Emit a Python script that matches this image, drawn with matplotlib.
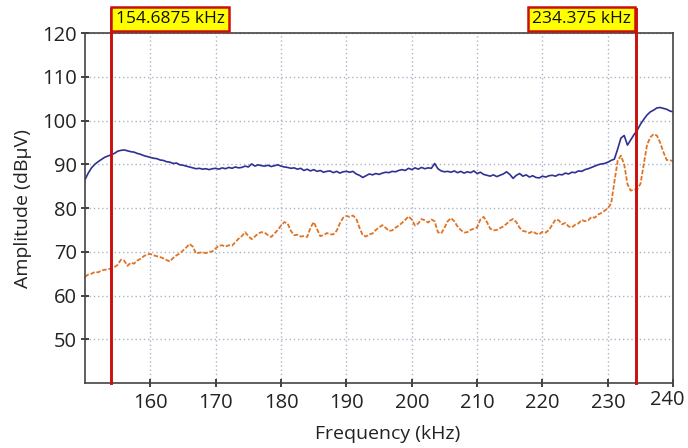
import matplotlib
matplotlib.use("Agg")
import matplotlib.pyplot as plt
import matplotlib.transforms as mtransforms
import numpy as np

plt.rcParams['font.family'] = ['Open Sans', 'DejaVu Sans']

# measured traces, 0.5 kHz steps from 150 to 240 kHz
freq = np.arange(150.0, 240.01, 0.5)

upper = [86.5, 88.0, 89.2, 90.0, 90.6, 91.1, 91.6, 91.9, 92.2, 92.5,
         93.0, 93.2, 93.3, 93.1, 92.9, 92.8, 92.5, 92.3, 92.0, 91.8,
         91.6, 91.4, 91.3, 91.0, 90.9, 90.6, 90.5, 90.2, 90.3, 89.9,
         89.8, 89.6, 89.4, 89.2, 89.0, 89.1, 88.9, 89.0, 88.8, 89.0,
         89.1, 88.9, 89.2, 89.0, 89.3, 89.1, 89.4, 89.2, 89.3, 89.6,
         89.4, 90.1, 89.6, 89.9, 89.7, 89.6, 89.8, 89.5, 89.7, 89.9,
         89.6, 89.4, 89.3, 89.1, 89.2, 88.9, 89.1, 88.6, 88.9, 88.5,
         88.8, 88.4, 88.6, 88.2, 88.4, 88.5, 88.1, 88.4, 88.0, 88.3,
         88.4, 88.2, 88.4, 87.8, 87.5, 87.0, 87.4, 87.8, 87.6, 87.9,
         87.7, 88.0, 88.2, 88.1, 88.4, 88.3, 88.6, 88.8, 88.6, 89.1,
         88.8, 89.2, 88.9, 89.3, 89.0, 89.2, 89.1, 90.2, 89.0, 88.5,
         88.3, 88.4, 88.2, 88.5, 88.1, 88.4, 88.0, 88.3, 88.1, 88.5,
         87.9, 88.2, 87.7, 87.5, 87.3, 87.6, 87.2, 87.5, 87.8, 88.3,
         87.7, 86.8, 87.5, 87.9, 87.3, 87.6, 87.1, 87.4, 87.0, 86.9,
         87.3, 87.1, 87.4, 87.5, 87.3, 87.7, 87.6, 88.0, 87.8, 88.2,
         88.1, 88.5, 88.4, 88.8, 89.0, 89.3, 89.6, 89.9, 90.1, 90.2,
         90.5, 90.9, 91.2, 93.5, 96.0, 96.6, 94.4, 95.6, 96.8, 97.8,
         99.2, 100.3, 101.3, 102.0, 102.4, 102.9, 103.0, 102.8, 102.6, 102.2,
         102.0]

lower = [64.3, 64.8, 65.0, 65.4, 65.3, 65.7, 65.9, 66.0, 66.2, 66.5,
         67.0, 68.2, 68.0, 66.8, 67.5, 67.3, 68.0, 68.4, 69.0, 69.4,
         69.5, 69.2, 69.0, 68.8, 68.5, 68.1, 67.8, 68.6, 69.2, 69.6,
         70.3, 71.0, 71.8, 71.2, 69.6, 69.8, 69.9, 69.7, 70.0, 70.1,
         70.8, 71.4, 71.5, 71.2, 71.5, 71.4, 72.2, 73.0, 73.6, 74.5,
         73.6, 72.9, 73.5, 74.2, 74.5, 74.4, 73.8, 73.4, 74.2, 75.0,
         76.0, 76.8, 76.5, 74.8, 73.8, 73.9, 73.5, 73.6, 73.4, 75.5,
         76.8, 75.2, 73.6, 73.8, 74.3, 74.0, 74.0, 74.8, 76.5, 77.8,
         78.2, 78.0, 78.3, 77.6, 75.5, 73.8, 73.5, 74.0, 74.2, 75.0,
         75.6, 76.1, 75.5, 74.8, 74.9, 75.5, 76.0, 76.6, 77.3, 78.1,
         77.4, 76.0, 76.5, 77.5, 77.2, 76.7, 77.4, 77.0, 74.5, 74.2,
         75.5, 77.0, 77.7, 77.0, 75.8, 75.0, 74.4, 74.5, 75.0, 75.3,
         75.6, 77.4, 78.0, 76.8, 75.3, 74.9, 75.0, 75.4, 75.8, 76.4,
         77.1, 77.5, 76.8, 75.5, 74.8, 74.6, 74.3, 74.7, 74.2, 74.0,
         74.6, 74.4, 75.0, 76.2, 77.4, 77.2, 76.3, 76.6, 75.8, 75.6,
         76.2, 76.5, 77.3, 77.0, 77.2, 78.0, 77.8, 78.5, 78.9, 79.4,
         80.0, 81.0, 86.0, 90.8, 92.0, 90.0, 85.5, 84.0, 84.2, 84.3,
         85.6, 90.0, 94.5, 96.2, 96.9, 96.6, 95.0, 92.8, 91.0, 90.9,
         90.8]

# marker lines as drawn in the picture, with their readouts
markers = [153.95, 234.3]
marker_labels = ["154.6875 kHz", "234.375 kHz"]

fig = plt.figure(figsize=(6.88, 4.48), dpi=100)
ax = fig.add_axes([0.1235, 0.145, 0.855, 0.781])

ax.grid(which='major', color='#aab4c8', linestyle=(0, (1, 2)), linewidth=1.0)
ax.plot(freq, upper, color='#2e3192', linewidth=1.2)
ax.plot(freq, lower, color='#e07426', linewidth=1.3, linestyle=(0, (2.5, 1)))

ax.set_xlim(150, 240)
ax.set_ylim(40, 120)
ax.set_xticks(np.arange(160, 241, 10))
ax.set_yticks(np.arange(50, 121, 10))
ax.tick_params(direction='inout', length=6, width=1.2, labelsize=14.5, colors='#222222')
ax.tick_params(axis='x', pad=4)
ax.tick_params(axis='y', pad=3)
for s in ax.spines.values():
    s.set_color('#444444')
    s.set_linewidth(1.2)

# last x label nudged left/up so it stays inside the figure
last = ax.get_xticklabels()[-1]
last.set_transform(last.get_transform() +
                   mtransforms.ScaledTranslation(-6 / 100, 3 / 100, fig.dpi_scale_trans))

ax.set_xlabel("Frequency (kHz)", fontsize=14, color='#222222')
ax.xaxis.set_label_coords(0.514, -0.12)
ax.set_ylabel("Amplitude (dB\u03bcV)", fontsize=14, color='#222222', labelpad=7)

# frequency markers with labels above the plot
for i, (m, lab) in enumerate(zip(markers, marker_labels)):
    ax.plot([m, m], [40, 125.5], color='#cc0e0e', linewidth=2.1, clip_on=False, zorder=5)
    if i == 0:
        off, ha = 3.5, 'left'
    else:
        off, ha = -3.5, 'right'
    ax.annotate(lab, xy=(m, 123.2), xytext=(off, 0), textcoords='offset points',
                ha=ha, va='center', fontsize=12.5, color='#111111', annotation_clip=False,
                bbox=dict(boxstyle='square,pad=0.25', fc='#ffff00', ec='#cc0e0e', lw=1.8),
                zorder=6)

fig.savefig('out.png', dpi=100)
